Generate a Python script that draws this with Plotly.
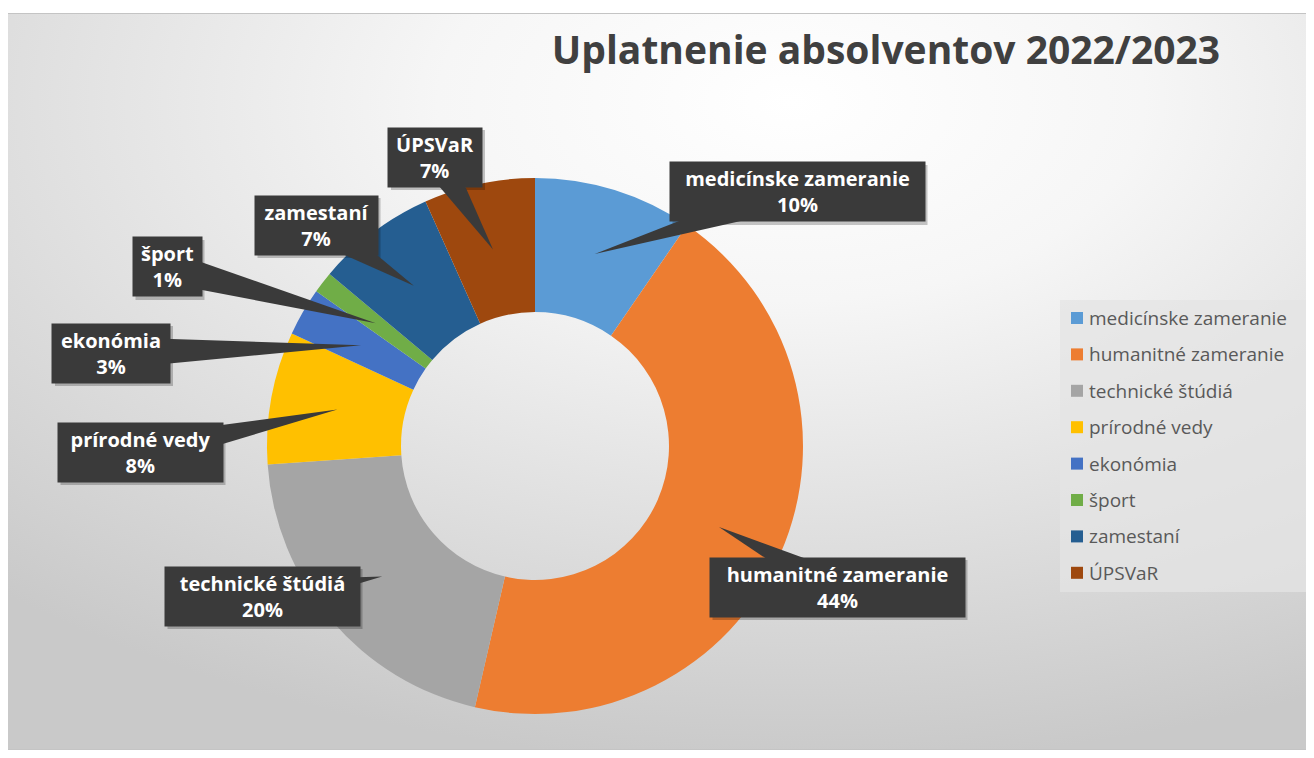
import math
import base64
import plotly.graph_objects as go

# data
labels = ['medicínske zameranie', 'humanitné zameranie', 'technické štúdiá', 'prírodné vedy',
          'ekonómia', 'šport', 'zamestaní', 'ÚPSVaR']
values = [9.6, 44.0, 20.3, 8.0, 2.9, 1.3, 7.2, 6.7]
colors = ['#5B9BD5', '#ED7D31', '#A5A5A5', '#FFC000', '#4472C4', '#70AD47', '#255E91', '#9E480E']

# callout boxes: centre and width (pixels of the page)
label_pos = [(797, 192), (837, 587), (262, 596), (140, 452), (111, 353), (167, 267), (316, 225), (435, 157)]
label_w = [255, 255, 195, 165, 118, 69, 123, 94]

# page is drawn with an 8px body margin
OFF = 8
W, H = 1306, 750
def px(x): return (x - OFF) / W
def py(y): return 1 - (y - OFF) / H

# donut geometry in page pixels
cx, cy, R = 535, 446, 268

# background gradient as svg
svg = """<svg xmlns='http://www.w3.org/2000/svg' width='1307' height='737'>
<defs><radialGradient id='g' cx='0.6' cy='0.12' r='0.9'>
<stop offset='0' stop-color='#ffffff'/><stop offset='0.3' stop-color='#f6f6f6'/>
<stop offset='1' stop-color='#c9c9c9'/></radialGradient></defs>
<rect x='0.5' y='0.5' width='1306' height='736' fill='url(#g)' stroke='#c4c4c4' stroke-width='1'/>
</svg>"""
bg = 'data:image/svg+xml;base64,' + base64.b64encode(svg.encode()).decode()

fig = go.Figure()
fig.add_trace(
    go.Pie(
        labels = labels, values = values, hole = 0.5, sort = False,
        direction = 'clockwise', rotation = 0,
        marker = dict(colors = colors, line = dict(width = 0)),
        textinfo = 'none', showlegend = False,
        domain = dict(x = [px(cx - R), px(cx + R)], y = [py(cy + R), py(cy - R)])
    ))

total = sum(values)
shapes = []
annotations = []
cum = 0
for lab, v, (bx, by), bw in zip(labels, values, label_pos, label_w):
    mid = (cum + v / 2) / total * 2 * math.pi
    cum += v
    ax = cx + 0.75 * R * math.sin(mid)
    ay = cy - 0.75 * R * math.cos(mid)
    # soft shadow under the box
    shapes.append(dict(type = 'rect', xref = 'paper', yref = 'paper',
                       x0 = px(bx - bw / 2 + 3), x1 = px(bx + bw / 2 + 3), y0 = py(by + 33), y1 = py(by - 27),
                       fillcolor = 'rgba(0,0,0,0.22)', line = dict(width = 0), layer = 'above'))
    # wedge pointer
    dx, dy = ax - bx, ay - by
    d = math.hypot(dx, dy)
    nx, ny = -dy / d * 16, dx / d * 16
    path = 'M {} {} L {} {} L {} {} Z'.format(px(bx + nx), py(by + ny), px(bx - nx), py(by - ny), px(ax), py(ay))
    shapes.append(dict(type = 'path', xref = 'paper', yref = 'paper', path = path,
                       fillcolor = '#3a3a3a', line = dict(width = 0), layer = 'above'))
    pct = round(v / total * 100)
    annotations.append(dict(
        x = px(bx), y = py(by), xref = 'paper', yref = 'paper', showarrow = False,
        text = '<b>{}<br>{}%</b>'.format(lab, pct), align = 'center',
        font = dict(family = 'Open Sans', size = 20, color = 'white'),
        width = bw - 12, height = 47,
        bgcolor = '#3a3a3a', borderpad = 6, xanchor = 'center', yanchor = 'middle'))

# legend (drawn by hand to get the spacing)
shapes.append(dict(type = 'rect', xref = 'paper', yref = 'paper',
                   x0 = px(1060), x1 = px(1307), y0 = py(592), y1 = py(300),
                   fillcolor = 'rgba(228,228,228,0.75)', line = dict(width = 0), layer = 'below'))
for i, (lab, col) in enumerate(zip(labels, colors)):
    ly = 318 + i * 36.4
    shapes.append(dict(type = 'rect', xref = 'paper', yref = 'paper',
                       x0 = px(1071), x1 = px(1083), y0 = py(ly + 6), y1 = py(ly - 6),
                       fillcolor = col, line = dict(width = 0)))
    annotations.append(dict(
        x = px(1087), y = py(ly), xref = 'paper', yref = 'paper', showarrow = False,
        text = lab, xanchor = 'left', yanchor = 'middle',
        font = dict(family = 'Open Sans', size = 19, color = '#595959')))

fig.update_layout(
    {
        'title' : {'text' : '<b>Uplatnenie absolventov 2022/2023</b>', 'font' : {'size' : 39, 'family' : 'Open Sans', 'color' : '#404040'},
                   'x' : px(886), 'xanchor' : 'center', 'y' : py(50), 'yanchor' : 'middle'},
        'width' : W, 'height' : H,
        'margin' : dict(l = 0, r = 0, t = 0, b = 0),
        'paper_bgcolor' : 'white',
        'images' : [dict(source = bg, xref = 'paper', yref = 'paper', x = px(7), y = py(13),
                         sizex = 1307 / W, sizey = 737 / H, sizing = 'stretch', layer = 'below')],
        'shapes' : shapes,
        'annotations' : annotations
    })

fig.write_html("out.html")
